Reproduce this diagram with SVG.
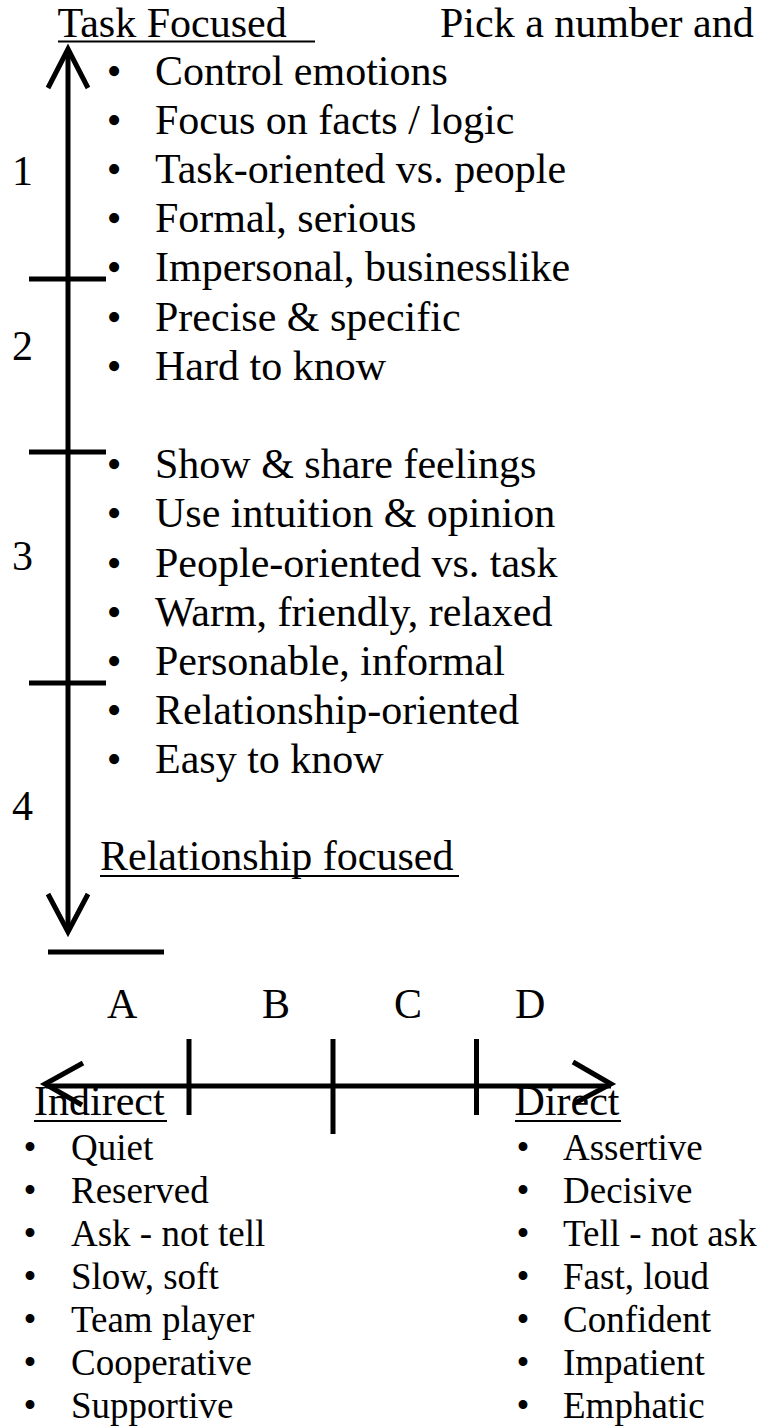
<svg xmlns="http://www.w3.org/2000/svg" width="762" height="1427" viewBox="0 0 762 1427">
  <style>
    text { font-family: "Liberation Serif", "Times New Roman", serif; fill: #000; }
    .t42 { font-size: 42px; }
    .t37 { font-size: 37px; }
    .bul { text-anchor: middle; }
    .ax { stroke: #000; stroke-width: 5; fill: none; stroke-linecap: butt; }
    .ul { stroke: #000; stroke-width: 2; fill: none; }
  </style>
  <rect width="762" height="1427" fill="#fff"/>

  <g id="header">
    <text class="t42" x="57.5" y="36.5">Task Focused</text>
    <line class="ul" x1="58" y1="41.5" x2="315" y2="41.5"/>
    <text class="t42" x="440" y="36.5">Pick a number and</text>
  </g>

  <g id="scale-numbers" class="t42">
    <text class="t42" x="12" y="185">1</text>
    <text class="t42" x="12" y="360">2</text>
    <text class="t42" x="12" y="570">3</text>
    <text class="t42" x="12" y="820">4</text>
  </g>

  <g id="task-list">
    <text class="t42 bul" x="114" y="84.5">•</text><text class="t42" x="155" y="84.5">Control emotions</text>
    <text class="t42 bul" x="114" y="133.7">•</text><text class="t42" x="155" y="133.7">Focus on facts / logic</text>
    <text class="t42 bul" x="114" y="182.9">•</text><text class="t42" x="155" y="182.9">Task-oriented vs. people</text>
    <text class="t42 bul" x="114" y="232.1">•</text><text class="t42" x="155" y="232.1">Formal, serious</text>
    <text class="t42 bul" x="114" y="281.3">•</text><text class="t42" x="155" y="281.3">Impersonal, businesslike</text>
    <text class="t42 bul" x="114" y="330.5">•</text><text class="t42" x="155" y="330.5">Precise &amp; specific</text>
    <text class="t42 bul" x="114" y="379.7">•</text><text class="t42" x="155" y="379.7">Hard to know</text>
  </g>

  <g id="relationship-list">
    <text class="t42 bul" x="114" y="478.1">•</text><text class="t42" x="155" y="478.1">Show &amp; share feelings</text>
    <text class="t42 bul" x="114" y="527.3">•</text><text class="t42" x="155" y="527.3">Use intuition &amp; opinion</text>
    <text class="t42 bul" x="114" y="576.5">•</text><text class="t42" x="155" y="576.5">People-oriented vs. task</text>
    <text class="t42 bul" x="114" y="625.7">•</text><text class="t42" x="155" y="625.7">Warm, friendly, relaxed</text>
    <text class="t42 bul" x="114" y="674.9">•</text><text class="t42" x="155" y="674.9">Personable, informal</text>
    <text class="t42 bul" x="114" y="724.1">•</text><text class="t42" x="155" y="724.1">Relationship-oriented</text>
    <text class="t42 bul" x="114" y="773.3">•</text><text class="t42" x="155" y="773.3">Easy to know</text>
  </g>

  <g id="relationship-label">
    <text class="t42" x="100" y="869.5">Relationship focused</text>
    <line class="ul" x1="100" y1="876" x2="459" y2="876"/>
  </g>

  <g id="letters">
    <text class="t42" x="107" y="1018.3">A</text>
    <text class="t42" x="262" y="1018.3">B</text>
    <text class="t42" x="394" y="1018.3">C</text>
    <text class="t42" x="515" y="1018.3">D</text>
  </g>

  <g id="indirect">
    <text class="t42" x="34" y="1115">Indirect</text>
    <line class="ul" x1="34" y1="1121" x2="167" y2="1121"/>
    <text class="t37 bul" x="30" y="1160">•</text><text class="t37" x="71" y="1160">Quiet</text>
    <text class="t37 bul" x="30" y="1203">•</text><text class="t37" x="71" y="1203">Reserved</text>
    <text class="t37 bul" x="30" y="1246">•</text><text class="t37" x="71" y="1246">Ask - not tell</text>
    <text class="t37 bul" x="30" y="1289">•</text><text class="t37" x="71" y="1289">Slow, soft</text>
    <text class="t37 bul" x="30" y="1332">•</text><text class="t37" x="71" y="1332">Team player</text>
    <text class="t37 bul" x="30" y="1375">•</text><text class="t37" x="71" y="1375">Cooperative</text>
    <text class="t37 bul" x="30" y="1418">•</text><text class="t37" x="71" y="1418">Supportive</text>
  </g>

  <g id="direct">
    <text class="t42" x="514.5" y="1115">Direct</text>
    <line class="ul" x1="515" y1="1121" x2="621" y2="1121"/>
    <text class="t37 bul" x="523" y="1160">•</text><text class="t37" x="563" y="1160">Assertive</text>
    <text class="t37 bul" x="523" y="1203">•</text><text class="t37" x="563" y="1203">Decisive</text>
    <text class="t37 bul" x="523" y="1246">•</text><text class="t37" x="563" y="1246">Tell - not ask</text>
    <text class="t37 bul" x="523" y="1289">•</text><text class="t37" x="563" y="1289">Fast, loud</text>
    <text class="t37 bul" x="523" y="1332">•</text><text class="t37" x="563" y="1332">Confident</text>
    <text class="t37 bul" x="523" y="1375">•</text><text class="t37" x="563" y="1375">Impatient</text>
    <text class="t37 bul" x="523" y="1418">•</text><text class="t37" x="563" y="1418">Emphatic</text>
  </g>

  <g id="connectors">
    <!-- vertical axis -->
    <line class="ax" x1="68" y1="49" x2="68" y2="931"/>
    <polyline class="ax" points="48,88 68,49 88,88"/>
    <polyline class="ax" points="48,894 68,932 88,894"/>
    <line class="ax" x1="29" y1="279" x2="106" y2="279"/>
    <line class="ax" x1="29" y1="452" x2="106" y2="452"/>
    <line class="ax" x1="29" y1="683" x2="106" y2="683"/>
    <line class="ax" x1="48" y1="952" x2="164" y2="952"/>
    <!-- horizontal axis -->
    <line class="ax" x1="46" y1="1086" x2="611" y2="1086"/>
    <polyline class="ax" points="83,1063 45,1084 82,1105"/>
    <polyline class="ax" points="573,1062 611,1084 575,1103"/>
    <line class="ax" x1="189" y1="1039" x2="189" y2="1115"/>
    <line class="ax" x1="333" y1="1039" x2="333" y2="1134"/>
    <line class="ax" x1="476.5" y1="1039" x2="476.5" y2="1115"/>
  </g>
</svg>
